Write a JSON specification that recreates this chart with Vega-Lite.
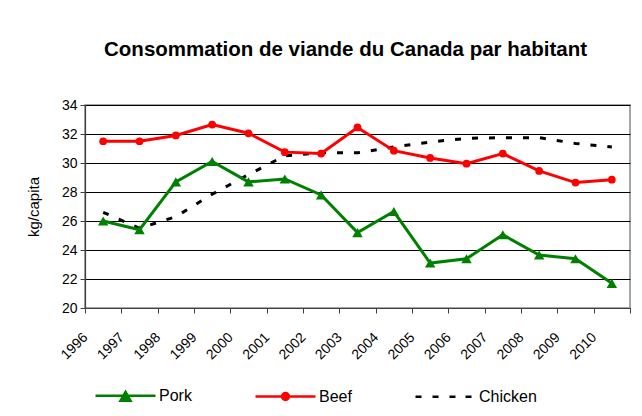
{
  "$schema": "https://vega.github.io/schema/vega-lite/v6.json",
  "width": 545,
  "height": 203,
  "autosize": {"type": "none"},
  "padding": {"left": 85, "top": 105, "right": 12, "bottom": 108},
  "background": "white",
  "title": {
    "text": "Consommation de viande du Canada par habitant",
    "font": "Liberation Sans",
    "fontSize": 20.5,
    "fontWeight": "bold",
    "color": "black",
    "anchor": "middle",
    "baseline": "alphabetic",
    "dx": -12,
    "offset": 22
  },
  "config": {
    "view": {"stroke": "#888888", "strokeWidth": 1.5},
    "axis": {
      "labelFont": "Liberation Sans",
      "titleFont": "Liberation Sans",
      "labelColor": "black",
      "titleColor": "black",
      "titleFontWeight": "normal",
      "domainColor": "#404040",
      "tickColor": "#404040",
      "tickSize": 5,
      "domainWidth": 1.2
    },
    "legend": {
      "labelFont": "Liberation Sans",
      "labelColor": "black"
    }
  },
  "data": {
    "values": [
      {"year": "1996", "series": "Pork", "value": 26.0},
      {"year": "1997", "series": "Pork", "value": 25.4},
      {"year": "1998", "series": "Pork", "value": 28.7},
      {"year": "1999", "series": "Pork", "value": 30.1},
      {"year": "2000", "series": "Pork", "value": 28.7},
      {"year": "2001", "series": "Pork", "value": 28.9},
      {"year": "2002", "series": "Pork", "value": 27.8},
      {"year": "2003", "series": "Pork", "value": 25.2},
      {"year": "2004", "series": "Pork", "value": 26.65},
      {"year": "2005", "series": "Pork", "value": 23.1},
      {"year": "2006", "series": "Pork", "value": 23.4},
      {"year": "2007", "series": "Pork", "value": 25.05},
      {"year": "2008", "series": "Pork", "value": 23.65},
      {"year": "2009", "series": "Pork", "value": 23.4},
      {"year": "2010", "series": "Pork", "value": 21.7},
      {"year": "1996", "series": "Beef", "value": 31.5},
      {"year": "1997", "series": "Beef", "value": 31.5},
      {"year": "1998", "series": "Beef", "value": 31.9},
      {"year": "1999", "series": "Beef", "value": 32.65},
      {"year": "2000", "series": "Beef", "value": 32.05},
      {"year": "2001", "series": "Beef", "value": 30.75},
      {"year": "2002", "series": "Beef", "value": 30.65},
      {"year": "2003", "series": "Beef", "value": 32.45},
      {"year": "2004", "series": "Beef", "value": 30.85},
      {"year": "2005", "series": "Beef", "value": 30.35},
      {"year": "2006", "series": "Beef", "value": 29.95},
      {"year": "2007", "series": "Beef", "value": 30.65},
      {"year": "2008", "series": "Beef", "value": 29.45},
      {"year": "2009", "series": "Beef", "value": 28.65},
      {"year": "2010", "series": "Beef", "value": 28.85},
      {"year": "1996", "series": "Chicken", "value": 26.6},
      {"year": "1997", "series": "Chicken", "value": 25.5},
      {"year": "1998", "series": "Chicken", "value": 26.3},
      {"year": "1999", "series": "Chicken", "value": 27.85},
      {"year": "2000", "series": "Chicken", "value": 29.2},
      {"year": "2001", "series": "Chicken", "value": 30.5},
      {"year": "2002", "series": "Chicken", "value": 30.7},
      {"year": "2003", "series": "Chicken", "value": 30.7},
      {"year": "2004", "series": "Chicken", "value": 31.1},
      {"year": "2005", "series": "Chicken", "value": 31.45},
      {"year": "2006", "series": "Chicken", "value": 31.7},
      {"year": "2007", "series": "Chicken", "value": 31.75},
      {"year": "2008", "series": "Chicken", "value": 31.75},
      {"year": "2009", "series": "Chicken", "value": 31.35},
      {"year": "2010", "series": "Chicken", "value": 31.1}
    ]
  },
  "encoding": {
    "x": {
      "field": "year",
      "type": "ordinal",
      "bandPosition": 0.5,
      "scale": {"type": "band", "paddingInner": 0, "paddingOuter": 0},
      "axis": {
        "title": null,
        "tickBand": "extent",
        "labelAngle": -45,
        "labelAlign": "right",
        "labelBaseline": "middle",
        "labelOffset": -18,
        "labelPadding": 22,
        "labelFontSize": 14,
        "grid": false
      }
    },
    "y": {
      "field": "value",
      "type": "quantitative",
      "scale": {"domain": [20, 34], "nice": false, "zero": false},
      "axis": {
        "title": "kg/capita",
        "values": [20, 22, 24, 26, 28, 30, 32, 34],
        "grid": true,
        "gridColor": "black",
        "gridWidth": 1,
        "labelFontSize": 14,
        "labelPadding": 3,
        "titleFontSize": 15,
        "titlePadding": 20
      }
    }
  },
  "layer": [
    {
      "transform": [{"filter": "datum.series == 'Chicken'"}],
      "mark": {"type": "line", "strokeWidth": 3, "color": "#000000", "strokeDash": [6, 11]},
      "encoding": {}
    },
    {
      "transform": [{"filter": "datum.series == 'Beef'"}],
      "mark": {"type": "line", "strokeWidth": 3, "color": "#FF0000"},
      "encoding": {}
    },
    {
      "transform": [{"filter": "datum.series == 'Pork'"}],
      "mark": {"type": "line", "strokeWidth": 3, "color": "#008000"},
      "encoding": {}
    },
    {
      "transform": [{"filter": "datum.series == 'Pork'"}],
      "mark": {"type": "point", "shape": "triangle-up", "filled": true, "size": 110, "opacity": 1, "color": "#008000"},
      "encoding": {}
    },
    {
      "transform": [{"filter": "datum.series == 'Beef'"}],
      "mark": {"type": "point", "shape": "circle", "filled": true, "size": 60, "opacity": 1, "color": "#FF0000"},
      "encoding": {}
    },
    {
      "mark": {"type": "point", "filled": true, "opacity": 0},
      "encoding": {
        "color": {
          "field": "series",
          "type": "nominal",
          "scale": {"domain": ["Pork", "Beef", "Chicken"], "range": ["#008000", "#FF0000", "#000000"]},
          "legend": {
            "title": null,
            "orient": "none",
            "direction": "horizontal",
            "legendX": 9,
            "legendY": 259,
            "padding": 0,
            "symbolSize": 3600,
            "symbolStrokeWidth": 2.5,
            "symbolOpacity": 1,
            "labelFontSize": 16,
            "labelOffset": 2,
            "columnPadding": 58,
            "encode": {
              "symbols": {
                "update": {
                  "stroke": {"scale": "color", "field": "value"},
                  "fill": {"scale": "color", "field": "value"},
                  "opacity": {"value": 1},
                  "strokeWidth": {"value": 2.5}
                }
              }
            }
          }
        },
        "shape": {
          "field": "series",
          "type": "nominal",
          "scale": {
            "domain": ["Pork", "Beef", "Chicken"],
            "range": [
              "M-1,0H1M0,-0.13L0.167,0.16L-0.167,0.16Z",
              "M-1,0H1M0.115,0A0.115,0.115,0,1,1,-0.115,0A0.115,0.115,0,1,1,0.115,0Z",
              "M-1,0H-0.8M-0.433,0H-0.233M0.133,0H0.333M0.667,0H0.867"
            ]
          },
          "legend": {
            "title": null,
            "orient": "none",
            "direction": "horizontal",
            "legendX": 9,
            "legendY": 259,
            "padding": 0,
            "symbolSize": 3600,
            "symbolStrokeWidth": 2.5,
            "symbolOpacity": 1,
            "labelFontSize": 16,
            "labelOffset": 2,
            "columnPadding": 58,
            "encode": {
              "symbols": {
                "update": {
                  "stroke": {"scale": "color", "field": "value"},
                  "fill": {"scale": "color", "field": "value"},
                  "opacity": {"value": 1},
                  "strokeWidth": {"value": 2.5}
                }
              }
            }
          }
        }
      }
    }
  ]
}
